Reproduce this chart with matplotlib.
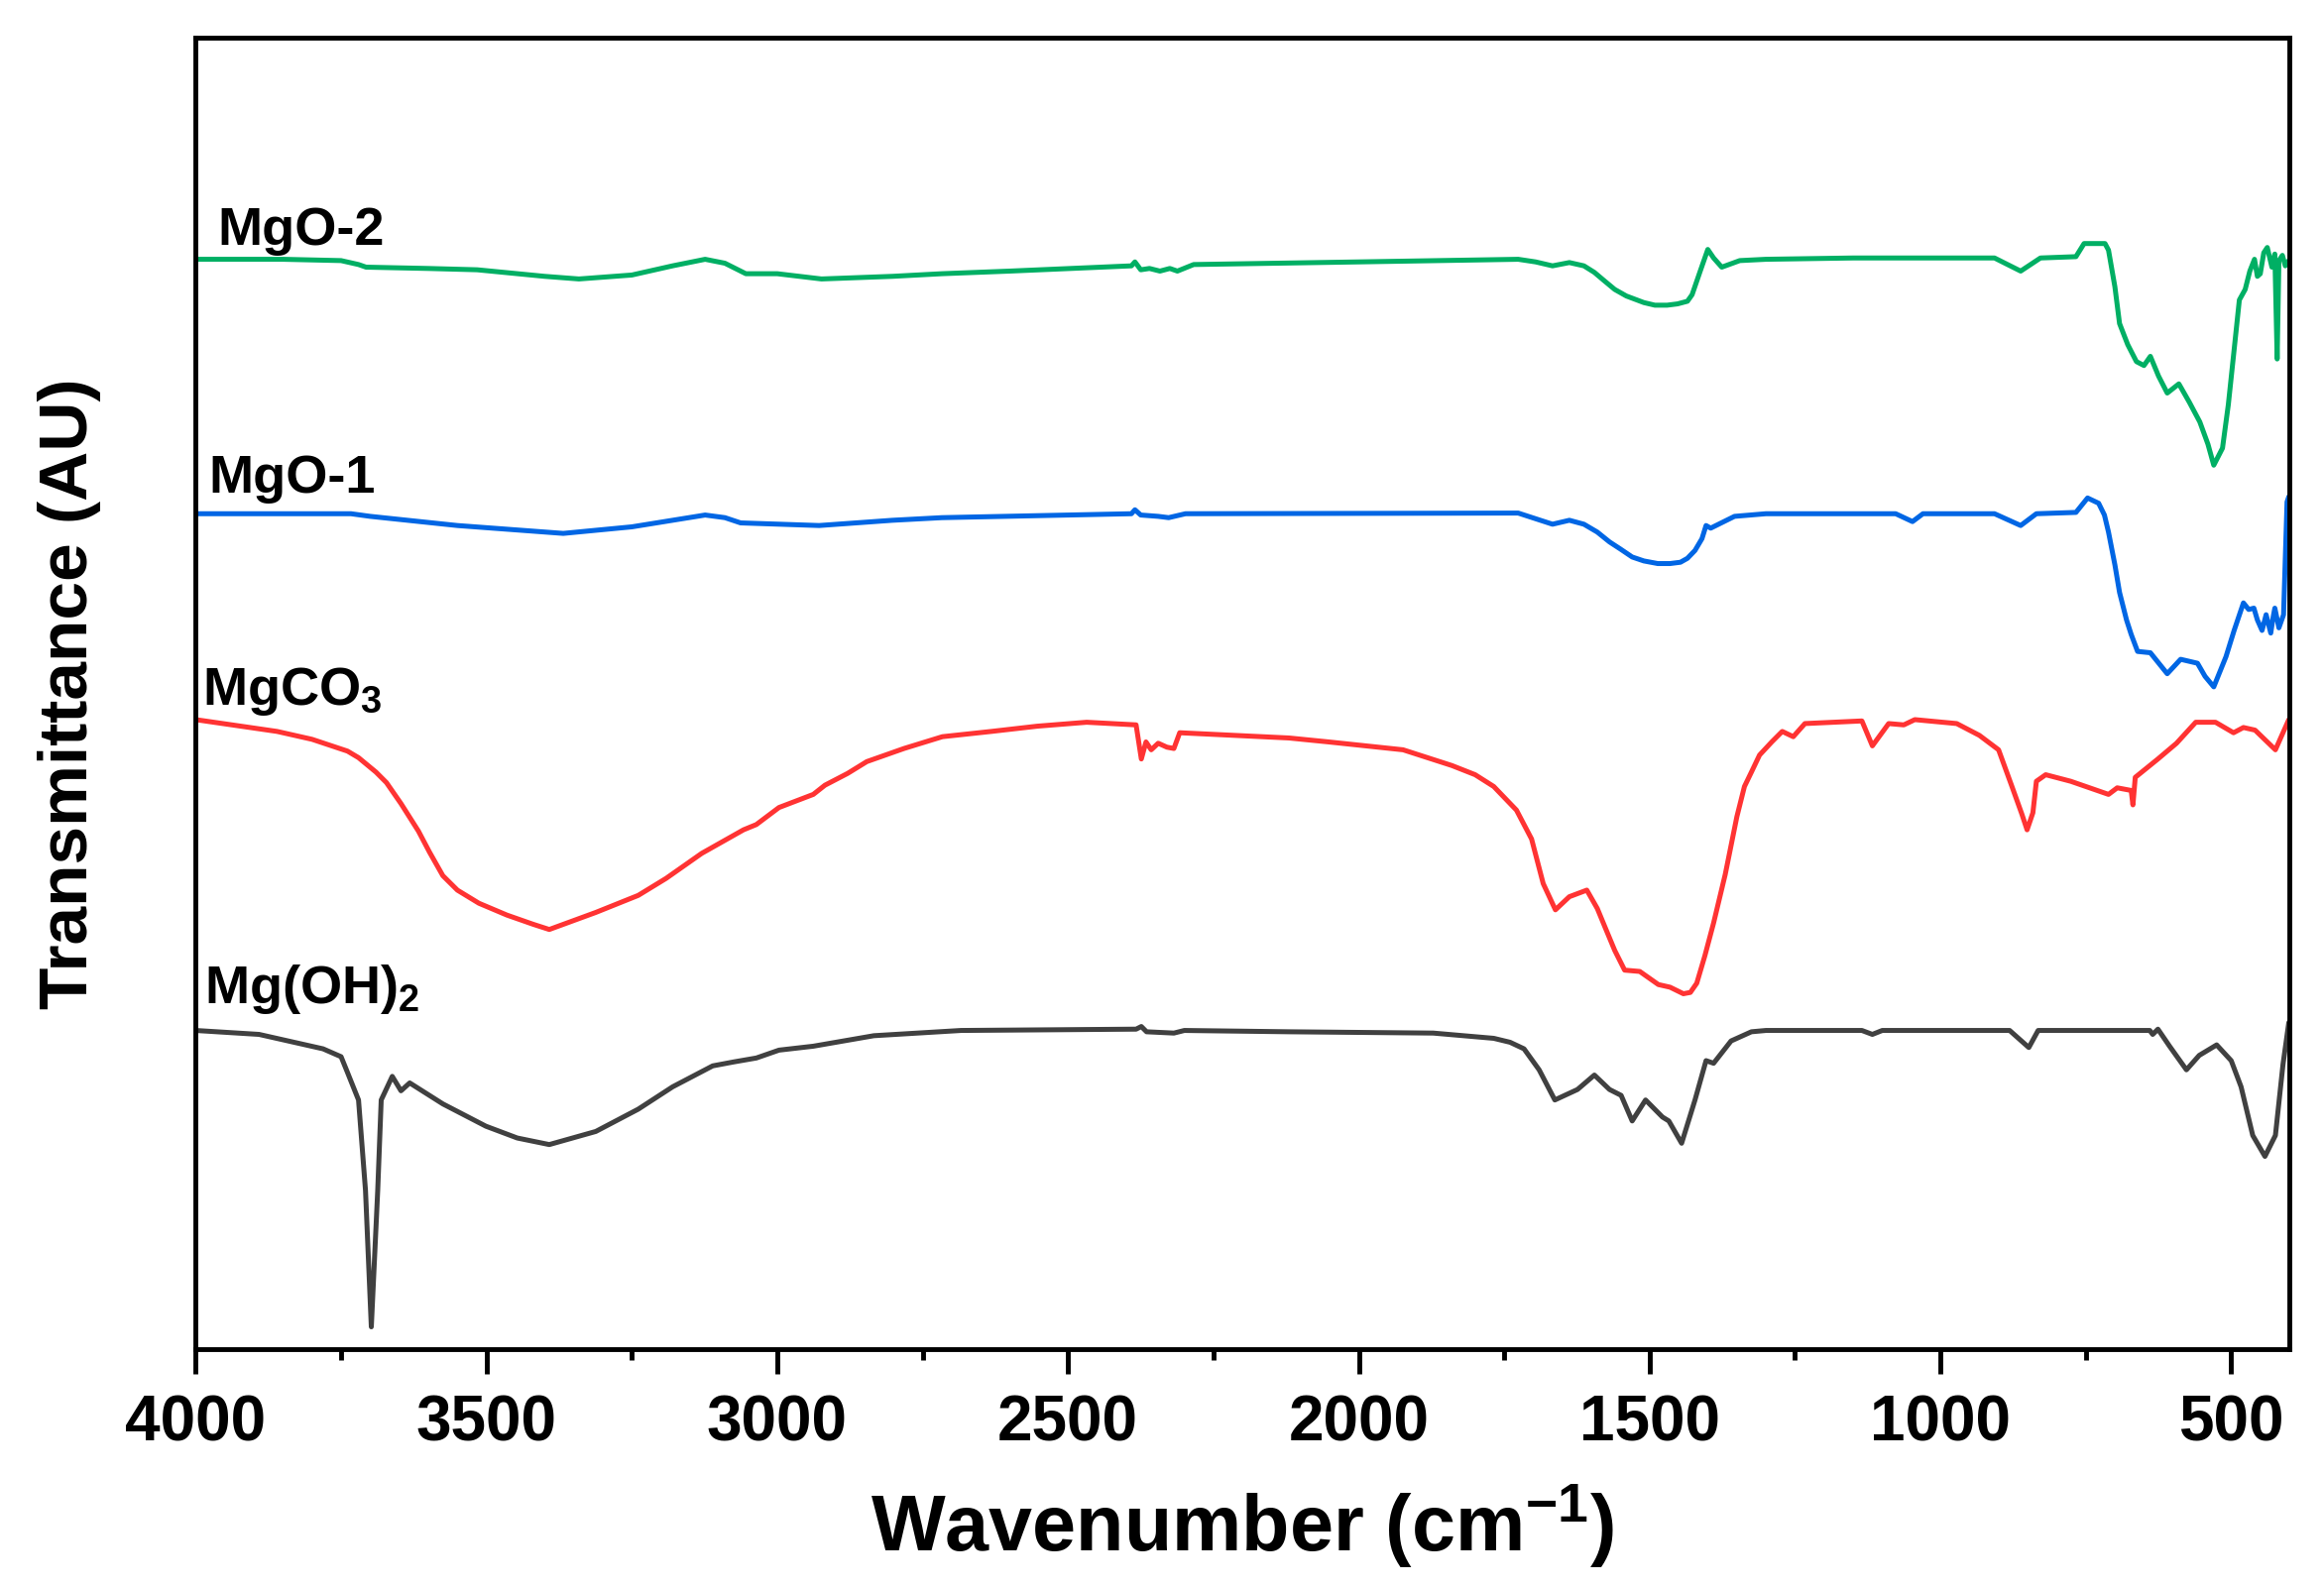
import matplotlib
matplotlib.use('Agg')
import matplotlib.pyplot as plt
import numpy as np

# FTIR spectra, wavenumber (cm-1) and offset transmittance (a.u.)
mgo2_wn = [4000, 3850, 3750, 3720, 3707, 3600, 3516, 3400, 3341, 3250, 3180, 3124, 3090,
           3054, 3000, 2924, 2802, 2717, 2600, 2391, 2385, 2375, 2360, 2342, 2325, 2312,
           2284, 2000, 1726, 1696, 1667, 1638, 1613, 1595, 1579, 1560, 1540, 1510, 1491,
           1470, 1452, 1435, 1427, 1413, 1400, 1390, 1376, 1345, 1300, 1150, 907, 862, 828,
           767, 753, 717, 711, 700, 692, 678, 663, 650, 639, 625, 610, 590, 572, 554, 540,
           530, 515, 505, 495, 486, 476, 468, 460, 455, 450, 444, 438, 430, 425, 421, 418,
           412, 407, 401]
mgo2_t = [83.1, 83.1, 83.0, 82.7, 82.5, 82.4, 82.3, 81.8, 81.6, 81.9, 82.6, 83.1, 82.8,
          82.0, 82.0, 81.6, 81.8, 82.0, 82.2, 82.6, 82.9, 82.3, 82.4, 82.2, 82.4, 82.2,
          82.7, 82.9, 83.1, 82.9, 82.6, 82.85, 82.6, 82.1, 81.5, 80.8, 80.3, 79.8, 79.6,
          79.6, 79.7, 79.9, 80.4, 82.2, 83.85, 83.2, 82.5, 83.0, 83.1, 83.2, 83.2, 82.2,
          83.2, 83.3, 84.3, 84.3, 83.8, 81.0, 78.2, 76.6, 75.3, 75.0, 75.7, 74.2, 72.9,
          73.6, 72.2, 70.7, 69.0, 67.4, 68.7, 72.0, 76.2, 80.0, 80.8, 82.2, 83.1, 81.8,
          82.0, 83.6, 84.0, 82.5, 83.5, 75.5, 83.0, 83.4, 82.6, 83.0]

mgo1_wn = [4000, 3733, 3700, 3550, 3368, 3250, 3124, 3090, 3063, 2928, 2802, 2717, 2391,
           2385, 2375, 2345, 2327, 2298, 1726, 1667, 1638, 1613, 1590, 1569, 1550, 1530,
           1510, 1486, 1465, 1447, 1435, 1422, 1410, 1403, 1395, 1354, 1300, 1077, 1048,
           1030, 907, 862, 835, 767, 747, 728, 718, 711, 700, 692, 680, 672, 661, 639,
           610, 587, 558, 545, 530, 509, 495, 479, 470, 461, 455, 447, 440, 432, 428, 425,
           418, 410, 404, 401]
mgo1_t = [63.7, 63.7, 63.5, 62.8, 62.2, 62.7, 63.6, 63.4, 63.0, 62.8, 63.2, 63.4, 63.7,
          64.0, 63.6, 63.5, 63.4, 63.7, 63.75, 62.9, 63.2, 62.9, 62.3, 61.55, 61.0, 60.4,
          60.1, 59.9, 59.9, 60.0, 60.3, 60.9, 61.8, 62.8, 62.6, 63.5, 63.7, 63.7, 63.1,
          63.7, 63.7, 62.8, 63.7, 63.8, 64.9, 64.5, 63.6, 62.3, 59.8, 57.7, 55.6, 54.5,
          53.2, 53.1, 51.5, 52.6, 52.3, 51.3, 50.5, 52.8, 54.8, 56.9, 56.4, 56.5, 55.6,
          54.8, 56.0, 54.6, 55.8, 56.5, 55.0, 56.0, 64.6, 65.0]

mgco3_wn = [4000, 3860, 3800, 3739, 3720, 3690, 3672, 3647, 3617, 3598, 3575, 3550, 3513,
            3465, 3420, 3392, 3312, 3239, 3191, 3130, 3058, 3036, 2997, 2938, 2918, 2879,
            2846, 2782, 2716, 2632, 2553, 2468, 2383, 2374, 2366, 2357, 2345, 2330, 2318,
            2308, 2120, 2052, 1924, 1840, 1800, 1768, 1729, 1703, 1683, 1662, 1638, 1608,
            1590, 1576, 1560, 1543, 1517, 1485, 1465, 1442, 1430, 1419, 1405, 1390, 1370,
            1350, 1337, 1325, 1311, 1290, 1272, 1253, 1233, 1135, 1117, 1089, 1063, 1044,
            972, 933, 900, 877, 860, 851, 841, 835, 819, 776, 711, 696, 672, 669, 665,
            626, 594, 561, 527, 496, 479, 459, 424, 401]
mgco3_t = [48.0, 47.1, 46.5, 45.6, 45.1, 44.0, 43.2, 41.6, 39.5, 37.9, 36.1, 35.0, 34.0,
           33.1, 32.4, 32.0, 33.3, 34.6, 35.9, 37.8, 39.6, 40.0, 41.3, 42.3, 43.0, 43.9,
           44.8, 45.8, 46.7, 47.1, 47.5, 47.8, 47.6, 45.0, 46.3, 45.7, 46.2, 45.9, 45.8,
           47.0, 46.6, 46.3, 45.7, 44.5, 43.8, 42.9, 41.1, 38.9, 35.5, 33.5, 34.5, 35.0,
           33.6, 32.1, 30.4, 28.9, 28.8, 27.8, 27.6, 27.1, 27.2, 27.9, 30.0, 32.5, 36.2,
           40.6, 42.9, 44.0, 45.3, 46.3, 47.1, 46.7, 47.7, 47.9, 46.0, 47.7, 47.6, 48.0,
           47.7, 46.8, 45.7, 42.9, 40.8, 39.6, 40.9, 43.3, 43.8, 43.3, 42.3, 42.8, 42.6,
           41.5, 43.6, 45.0, 46.2, 47.8, 47.8, 47.0, 47.4, 47.2, 45.7, 48.0]

mgoh2_wn = [4000, 3891, 3781, 3750, 3739, 3720, 3708, 3698, 3687, 3681, 3662, 3647, 3632,
            3575, 3501, 3447, 3392, 3312, 3239, 3180, 3111, 3075, 3036, 2997, 2938, 2834,
            2684, 2383, 2374, 2365, 2318, 2300, 2120, 1872, 1768, 1740, 1716, 1690, 1663,
            1624, 1595, 1569, 1549, 1530, 1507, 1478, 1467, 1445, 1422, 1403, 1390, 1360,
            1325, 1300, 1135, 1117, 1100, 881, 848, 832, 640, 635, 626, 606, 577, 555,
            525, 500, 483, 463, 442, 424, 411, 401]
mgoh2_t = [24.3, 24.0, 22.9, 22.3, 21.1, 19.0, 12.1, 1.7, 12.1, 19.0, 20.8, 19.7, 20.3,
           18.7, 17.0, 16.1, 15.6, 16.6, 18.3, 20.0, 21.6, 21.9, 22.2, 22.8, 23.1, 23.9,
           24.3, 24.4, 24.6, 24.2, 24.1, 24.3, 24.2, 24.1, 23.7, 23.4, 22.9, 21.3, 19.0,
           19.8, 20.9, 19.8, 19.35, 17.4, 19.0, 17.7, 17.4, 15.7, 19.0, 22.0, 21.8, 23.5,
           24.2, 24.3, 24.3, 24.0, 24.3, 24.3, 23.0, 24.3, 24.3, 24.0, 24.4, 23.1, 21.3,
           22.4, 23.2, 22.0, 20.0, 16.3, 14.7, 16.3, 21.7, 24.9]

names = ['MgO-2', 'MgO-1', 'MgCO$_3$', 'Mg(OH)$_2$']
colors = ['#00AF64', '#0066E4', '#FF3333', '#404040']

plt.rcParams['font.family'] = ['Liberation Sans', 'DejaVu Sans']
plt.rcParams['font.weight'] = 'bold'
plt.rcParams['mathtext.fontset'] = 'custom'
plt.rcParams['mathtext.rm'] = 'Liberation Sans:bold'
plt.rcParams['mathtext.it'] = 'Liberation Sans:bold'
plt.rcParams['mathtext.bf'] = 'Liberation Sans:bold'
plt.rcParams['mathtext.default'] = 'rm'

fig = plt.figure(figsize=(23.44, 16.02), dpi=100)
ax = fig.add_axes([0.0842, 0.1504, 0.9009, 0.8259])

series = [(mgo2_wn, mgo2_t), (mgo1_wn, mgo1_t), (mgco3_wn, mgco3_t), (mgoh2_wn, mgoh2_t)]
for (wn, t), c in zip(series, colors):
    ax.plot(wn, t, color=c, lw=3.6, solid_joinstyle='round', solid_capstyle='round')

# curve labels
label_pos = [(3963, 84.2), (3978, 65.3), (3989, 49.1), (3985, 26.4)]
for name, (lx, ly) in zip(names, label_pos):
    ax.text(lx, ly, name, fontsize=39, fontweight='bold', ha='left', va='baseline')

ax.set_xlim(4000, 400)
ax.set_ylim(0, 100)
ax.set_xticks(np.arange(4000, 499, -500))
ax.set_xticks(np.arange(3750, 700, -500), minor=True)
ax.set_yticks([])
ax.tick_params(axis='x', which='major', direction='out', length=18, width=3.5,
               pad=15, labelsize=46)
ax.tick_params(axis='x', which='minor', direction='out', length=8, width=3.5)
for lab in ax.get_xticklabels():
    lab.set_fontweight('bold')
for sp in ax.spines.values():
    sp.set_linewidth(3.5)
    sp.set_color('black')

ax.set_xlabel('Wavenumber (cm$^{-1}$)', fontsize=57, fontweight='bold', va='baseline')
ax.xaxis.set_label_coords(0.5, -0.1542)
ax.set_ylabel('Transmittance (AU)', fontsize=50, fontweight='bold', va='baseline')
ax.yaxis.set_label_coords(-0.052, 0.5)

fig.savefig('out.png', dpi=100)
